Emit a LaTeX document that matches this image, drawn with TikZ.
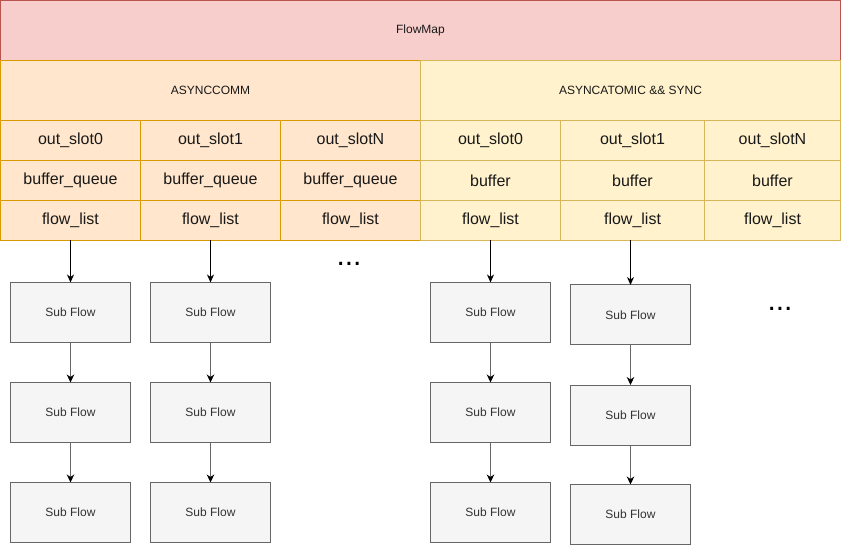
\documentclass[tikz,border=0pt]{standalone}
\usepackage{fontspec}
\setmainfont{Liberation Sans}
\usetikzlibrary{arrows.meta}

\definecolor{mapfill}{HTML}{F8CECC}
\definecolor{mapline}{HTML}{B85450}
\definecolor{commfill}{HTML}{FFE6CC}
\definecolor{commline}{HTML}{D79B00}
\definecolor{syncfill}{HTML}{FFF2CC}
\definecolor{syncline}{HTML}{D6B656}
\definecolor{subfill}{HTML}{F5F5F5}
\definecolor{subline}{HTML}{666666}
\definecolor{subtext}{HTML}{333333}

\tikzset{
  cellbase/.style={draw, line width=1pt, inner sep=0pt, outer sep=0pt, text=black!90},
  mapcell/.style={cellbase, draw=mapline, fill=mapfill, minimum height=60pt, font=\fontsize{12}{14}\selectfont},
  commhead/.style={cellbase, draw=commline, fill=commfill, minimum height=60pt, font=\fontsize{12}{14}\selectfont},
  synchead/.style={cellbase, draw=syncline, fill=syncfill, minimum height=60pt, font=\fontsize{12}{14}\selectfont},
  commcell/.style={cellbase, draw=commline, fill=commfill, minimum width=140pt, minimum height=40pt, font=\fontsize{16}{18}\selectfont},
  synccell/.style={cellbase, draw=syncline, fill=syncfill, minimum width=140pt, minimum height=40pt, font=\fontsize{16}{18}\selectfont},
  subflow/.style={draw=subline, fill=subfill, text=subtext, line width=1pt, minimum width=120pt, minimum height=60pt, inner sep=0pt, outer sep=0pt, font=\fontsize{12}{14}\selectfont},
  toparrow/.style={line width=1pt, -{Stealth[length=8pt,width=7pt,inset=2.5pt]}},
  subarrow/.style={line width=1.6pt, draw=subline, -{Stealth[length=8pt,width=7.5pt,inset=2.5pt,black]}},
  moredots/.style={anchor=base, inner sep=0pt, font=\fontsize{30}{34}\selectfont}
}

\begin{document}
\begin{tikzpicture}[x=1pt,y=-1pt]
  %%%%% START %%%%%
  \useasboundingbox (0,0) rectangle (841,545);

  % header rows
  \node[mapcell, minimum width=840pt] (flowmap) at (420.5,30.5) {FlowMap};
  \node[commhead, minimum width=420pt] (comm) at (210.5,90.5) {ASYNCCOMM};
  \node[synchead, minimum width=420pt] (sync) at (630.5,90.5) {ASYNCATOMIC \&\& SYNC};

  % ASYNCCOMM slots
  \node[commcell] (os1) at (70.5,140.5) {out\_slot0};
  \node[commcell] (os2) at (210.5,140.5) {out\_slot1};
  \node[commcell] (os3) at (350.5,140.5) {out\_slotN};
  \node[commcell] (bq1) at (70.5,180.5) {buffer\_queue};
  \node[commcell] (bq2) at (210.5,180.5) {buffer\_queue};
  \node[commcell] (bq3) at (350.5,180.5) {buffer\_queue};
  \node[commcell] (fl1) at (70.5,220.5) {flow\_list};
  \node[commcell] (fl2) at (210.5,220.5) {flow\_list};
  \node[commcell] (fl3) at (350.5,220.5) {flow\_list};

  % ASYNCATOMIC && SYNC slots
  \node[synccell] (os4) at (490.5,140.5) {out\_slot0};
  \node[synccell, minimum width=144pt] (os5) at (632.5,140.5) {out\_slot1};
  \node[synccell, minimum width=136pt] (os6) at (772.5,140.5) {out\_slotN};
  \node[synccell] (bq4) at (490.5,180.5) {buffer};
  \node[synccell, minimum width=144pt] (bq5) at (632.5,180.5) {buffer};
  \node[synccell, minimum width=136pt] (bq6) at (772.5,180.5) {buffer};
  \node[synccell] (fl4) at (490.5,220.5) {flow\_list};
  \node[synccell, minimum width=144pt] (fl5) at (632.5,220.5) {flow\_list};
  \node[synccell, minimum width=136pt] (fl6) at (772.5,220.5) {flow\_list};

  % sub flows
  \node[subflow] (sf11) at (70.5,312.5) {Sub Flow};
  \node[subflow] (sf12) at (70.5,412.5) {Sub Flow};
  \node[subflow] (sf13) at (70.5,512.5) {Sub Flow};
  \node[subflow] (sf21) at (210.5,312.5) {Sub Flow};
  \node[subflow] (sf22) at (210.5,412.5) {Sub Flow};
  \node[subflow] (sf23) at (210.5,512.5) {Sub Flow};
  \node[subflow] (sf41) at (490.5,312.5) {Sub Flow};
  \node[subflow] (sf42) at (490.5,412.5) {Sub Flow};
  \node[subflow] (sf43) at (490.5,512.5) {Sub Flow};
  \node[subflow] (sf51) at (630.5,315) {Sub Flow};
  \node[subflow] (sf52) at (630.5,415) {Sub Flow};
  \node[subflow] (sf53) at (630.5,514.5) {Sub Flow};

  \node[moredots] (more1) at (349,266) {...};
  \node[moredots] (more2) at (780,311) {...};

  % arrows
  \draw[toparrow] (fl1) -- (sf11);
  \draw[toparrow] (fl2) -- (sf21);
  \draw[toparrow] (fl4) -- (sf41);
  \draw[toparrow] (sf51.north |- fl5.south) -- (sf51);
  \draw[subarrow] (sf11) -- (sf12);
  \draw[subarrow] (sf12) -- (sf13);
  \draw[subarrow] (sf21) -- (sf22);
  \draw[subarrow] (sf22) -- (sf23);
  \draw[subarrow] (sf41) -- (sf42);
  \draw[subarrow] (sf42) -- (sf43);
  \draw[subarrow] (sf51) -- (sf52);
  \draw[subarrow] (sf52) -- (sf53);
  %%%%% END %%%%%
\end{tikzpicture}
\end{document}
